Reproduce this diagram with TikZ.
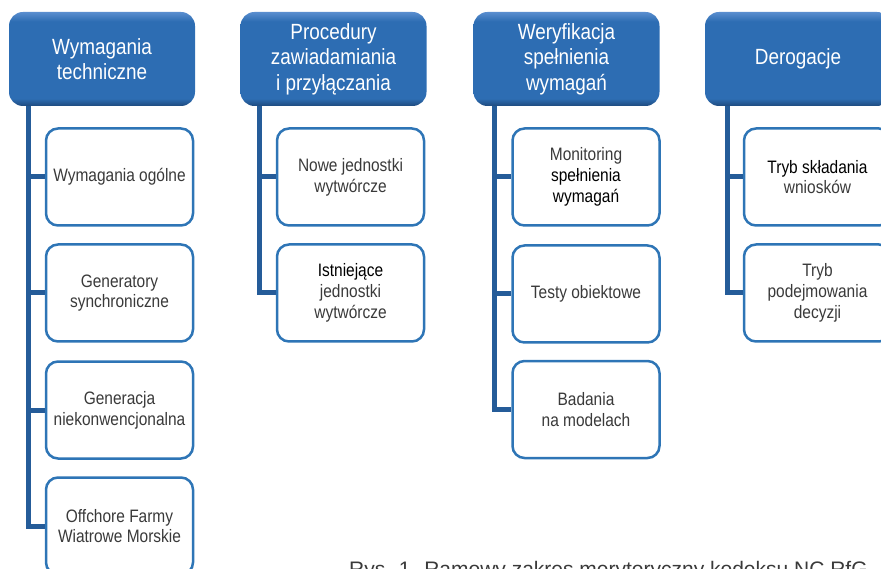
\documentclass[tikz,border=0pt]{standalone}
\usepackage{fontspec}
\setmainfont{Liberation Sans}[FakeStretch=0.86]
\newfontfamily\capfont{Liberation Sans}
\definecolor{hdrmid}{HTML}{2D6DB3}
\definecolor{hdrlight}{HTML}{5A8ECF}
\definecolor{hdrdark}{HTML}{1E4A7E}
\definecolor{linecol}{HTML}{255C99}
\definecolor{boxcol}{HTML}{2E75B6}
\definecolor{txt}{HTML}{3A3A3A}
\pgfdeclareverticalshading{hdrshade}{100bp}{color(0bp)=(hdrdark); color(25bp)=(hdrdark); color(29bp)=(hdrmid); color(70bp)=(hdrmid); color(75bp)=(hdrlight); color(100bp)=(hdrlight)}
\tikzset{
  hdr/.style={rounded corners=14pt, shading=hdrshade, minimum width=186pt, minimum height=94pt,
    text=white, font=\fontsize{22}{25.5}\selectfont, align=center, inner sep=0pt},
  child/.style={draw=boxcol, line width=2.5pt, fill=white, rounded corners=12pt,
    minimum width=147pt, minimum height=97pt, text=txt,
    font=\fontsize{18}{20.7}\selectfont, align=center, inner sep=0pt},
  conn/.style={draw=linecol, line width=5pt},
  caption/.style={anchor=base west, inner sep=0pt, text=txt, font=\capfont\fontsize{21}{25}\selectfont}
}
\begin{document}
\begin{tikzpicture}[x=1pt,y=-1pt]
\useasboundingbox (0,0) rectangle (881,569);
% headers
\node[hdr] (h1) at (102,59) {Wymagania\\techniczne};
\node[hdr] (h2) at (333.5,59) {Procedury\\zawiadamiania\\i przyłączania};
\node[hdr] (h3) at (566.5,59) {Weryfikacja\\spełnienia\\wymagań};
\node[hdr] (h4) at (798,59) {Derogacje};
% children column 1
\node[child] (c11) at (119.5,177) {Wymagania ogólne};
\node[child] (c12) at (119.5,293) {Generatory\\synchroniczne};
\node[child] (c13) at (119.5,410) {Generacja\\niekonwencjonalna};
\node[child] (c14) at (119.5,526) {Offchore Farmy\\Wiatrowe Morskie};
% column 2
\node[child] (c21) at (350.5,177) {Nowe jednostki\\wytwórcze};
\node[child] (c22) at (350.5,293) {\textcolor{black}{Istniejące}\\jednostki\\wytwórcze};
% column 3
\node[child] (c31) at (586,177) {Monitoring\\\textcolor{black}{spełnienia}\\\textcolor{black}{wymagań}};
\node[child] (c32) at (586,294) {Testy obiektowe};
\node[child] (c33) at (586,409.5) {Badania\\na modelach};
% column 4
\node[child] (c41) at (817.5,177) {\textcolor{black}{Tryb składania}\\wniosków};
\node[child] (c42) at (817.5,293) {Tryb\\podejmowania\\decyzji};
% trunk coordinates
\coordinate (t1) at (28,106);
\coordinate (t2) at (259,106);
\coordinate (t3) at (494,106);
\coordinate (t4) at (727,106);
% connectors
\draw[conn] (t1) |- (c14.west);
\draw[conn] (t1 |- c11.west) -- (c11.west);
\draw[conn] (t1 |- c12.west) -- (c12.west);
\draw[conn] (t1 |- c13.west) -- (c13.west);
\draw[conn] (t2) |- (c22.west);
\draw[conn] (t2 |- c21.west) -- (c21.west);
\draw[conn] (t3) |- (c33.west);
\draw[conn] (t3 |- c31.west) -- (c31.west);
\draw[conn] (t3 |- c32.west) -- (c32.west);
\draw[conn] (t4) |- (c42.west);
\draw[conn] (t4 |- c41.west) -- (c41.west);
% caption (cut off at bottom)
\node[caption] (cap) at (349,576) {Rys. 1. Ramowy zakres merytoryczny kodeksu NC RfG};
\end{tikzpicture}
\end{document}
